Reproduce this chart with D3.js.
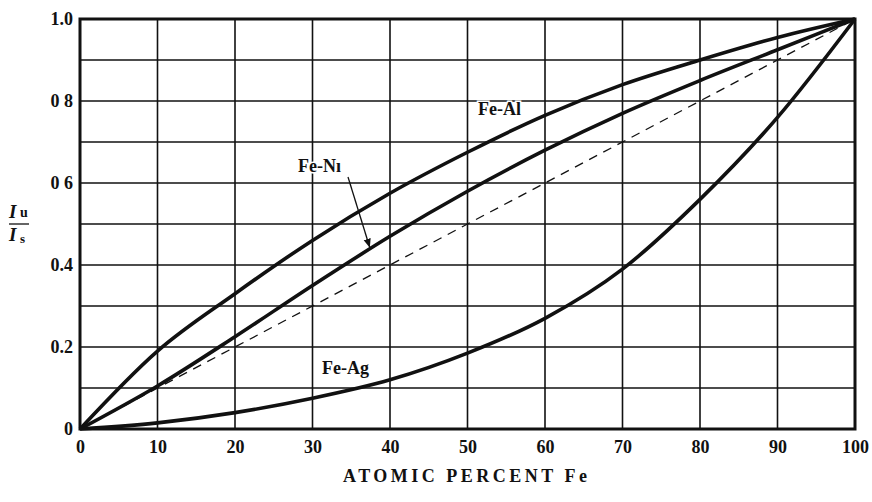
<!DOCTYPE html>
<html><head><meta charset="utf-8">
<script src="https://cdn.jsdelivr.net/npm/d3@7"></script>
<style>body{margin:0;background:#fff}svg{display:block}</style>
</head><body>
<svg id="c" width="872" height="502"></svg>
<script>
const xs = [0,10,20,30,40,50,60,70,80,90,100];
const feAl = [0,0.19,0.33,0.46,0.575,0.675,0.765,0.84,0.9,0.955,1.0];
const feNi = [0,0.105,0.225,0.35,0.47,0.58,0.68,0.77,0.85,0.925,1.0];
const feAg = [0,0.015,0.04,0.075,0.12,0.185,0.27,0.39,0.56,0.76,1.0];
const ideal = [[0,0],[100,1]];
const xTicks = [0,10,20,30,40,50,60,70,80,90,100];
const yTicks = [0,0.2,0.4,0.6,0.8,1.0];
const yTickLabels = ["0","0.2","0.4","0 6","0 8","1.0"];
const yGrid = [0.1,0.2,0.3,0.4,0.5,0.6,0.7,0.8,0.9];
const xTitle = "ATOMIC PERCENT Fe";

const svg = d3.select("#c");
const x = d3.scaleLinear().domain([0,100]).range([80,855]);
const y = d3.scaleLinear().domain([0,1]).range([429,19]);
const font = "'Liberation Serif','DejaVu Serif',serif";
const ink = "#111";

svg.append("g").selectAll("line").data(xTicks.slice(1,-1)).join("line")
  .attr("x1",d=>x(d)).attr("x2",d=>x(d)).attr("y1",y(0)).attr("y2",y(1))
  .attr("stroke",ink).attr("stroke-width",1.6);
svg.append("g").selectAll("line").data(yGrid).join("line")
  .attr("x1",x(0)).attr("x2",x(100)).attr("y1",d=>y(d)).attr("y2",d=>y(d))
  .attr("stroke",ink).attr("stroke-width",1.6);
svg.append("rect").attr("x",x(0)).attr("y",y(1)).attr("width",x(100)-x(0)).attr("height",y(0)-y(1))
  .attr("fill","none").attr("stroke",ink).attr("stroke-width",3);

const xAxis = d3.axisBottom(x).tickValues(xTicks).tickSize(0).tickPadding(11).tickFormat(d3.format("d"));
const gx = svg.append("g").attr("transform",`translate(0,${y(0)})`).call(xAxis);
gx.select(".domain").remove();
gx.selectAll("text").attr("font-family",font).attr("font-weight","bold").attr("font-size",18).attr("fill",ink);
const yAxis = d3.axisLeft(y).tickValues(yTicks).tickSize(0).tickPadding(7).tickFormat((d,i)=>yTickLabels[i]);
const gy = svg.append("g").attr("transform",`translate(${x(0)},0)`).call(yAxis);
gy.select(".domain").remove();
gy.selectAll("text").attr("font-family",font).attr("font-weight","bold").attr("font-size",18).attr("fill",ink);

const line = d3.line().x(d=>x(d[0])).y(d=>y(d[1])).curve(d3.curveMonotoneX);
svg.append("path").attr("d",d3.line().x(d=>x(d[0])).y(d=>y(d[1]))(ideal))
  .attr("fill","none").attr("stroke",ink).attr("stroke-width",1.3).attr("stroke-dasharray","9,7");
[feAl,feNi,feAg].forEach(s=>{
  svg.append("path").attr("d",line(xs.map((v,i)=>[v,s[i]])))
    .attr("fill","none").attr("stroke",ink).attr("stroke-width",3.6).attr("stroke-linejoin","round");
});

const lab = (t,xx,yy)=>svg.append("text").attr("x",xx).attr("y",yy).text(t)
  .attr("font-family",font).attr("font-weight","bold").attr("font-size",18).attr("fill",ink)
  .attr("paint-order","stroke").attr("stroke","#fff").attr("stroke-width",3);
lab("Fe-Al", 478, 115);
lab("Fe-N\u0131", 298, 172);
lab("Fe-Ag", 322, 374);

svg.append("defs").append("marker").attr("id","ah").attr("viewBox","0 0 10 10").attr("refX",10).attr("refY",5)
  .attr("markerWidth",7).attr("markerHeight",7).attr("orient","auto")
  .append("path").attr("d","M0,1 L10,5 L0,9 Z").attr("fill",ink);
svg.append("line").attr("x1",348).attr("y1",177).attr("x2",x(37.4)).attr("y2",y(0.442))
  .attr("stroke",ink).attr("stroke-width",1.3).attr("marker-end","url(#ah)");

svg.append("text").attr("x",343).attr("y",482).text(xTitle)
  .attr("font-family",font).attr("font-weight","bold").attr("font-size",18)
  .attr("textLength",244).attr("lengthAdjust","spacing").attr("fill",ink);
const yl = svg.append("g").attr("font-family",font).attr("font-weight","bold").attr("fill",ink);
yl.append("text").attr("x",9).attr("y",218).attr("font-style","italic").attr("font-size",19).text("I");
yl.append("text").attr("x",20).attr("y",217).attr("font-size",14).text("u");
yl.append("line").attr("x1",9).attr("x2",29).attr("y1",224).attr("y2",224).attr("stroke",ink).attr("stroke-width",1.3);
yl.append("text").attr("x",9).attr("y",241).attr("font-style","italic").attr("font-size",19).text("I");
yl.append("text").attr("x",20).attr("y",243).attr("font-size",13).text("s");
</script>
</body></html>
